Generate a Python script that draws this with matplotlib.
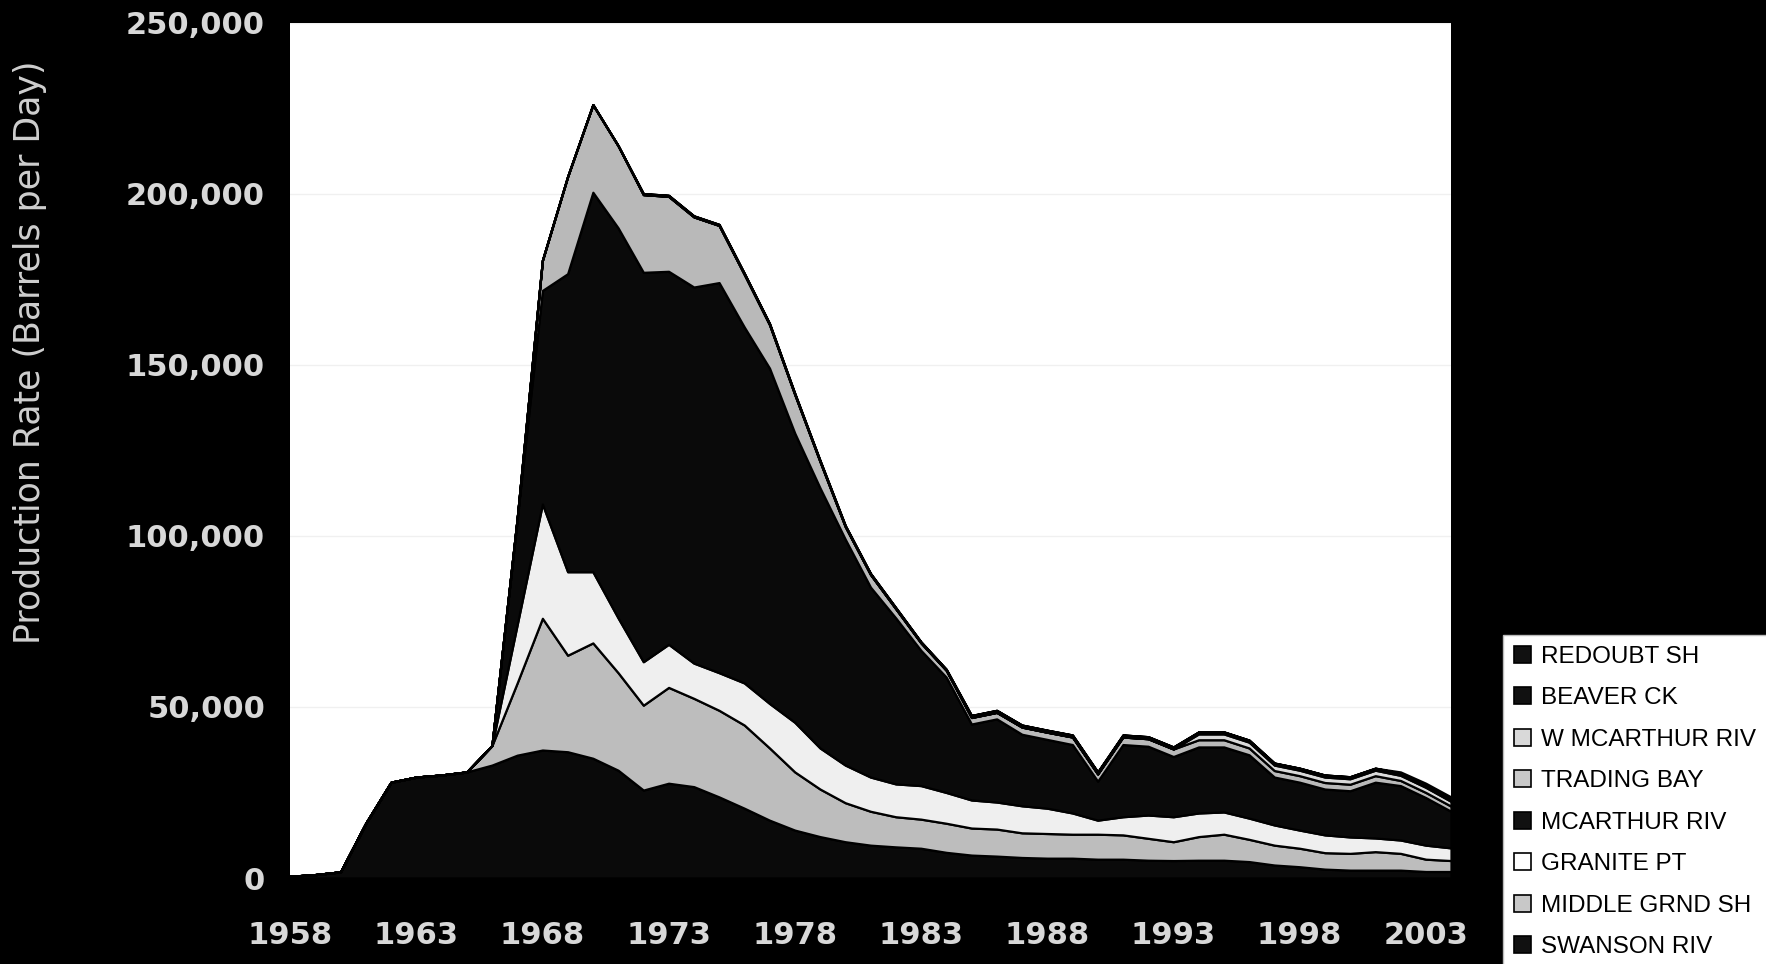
import matplotlib
matplotlib.use('Agg')
import matplotlib.pyplot as plt
from matplotlib.patches import Patch
from matplotlib.ticker import FuncFormatter

years = list(range(1958, 2005))

swanson_riv = [500, 1000, 1800, 16000, 28000, 29500, 30100, 31000, 33000, 35900,
               37400, 36900, 35000, 31500, 25700, 27700, 26700, 23700, 20400, 16900,
               14000, 12100, 10600, 9600, 9100, 8700, 7500, 6700, 6400, 6000,
               5800, 5800, 5500, 5500, 5200, 5100, 5200, 5200, 4800, 3800,
               3300, 2600, 2300, 2300, 2300, 1900, 1900]
middle_grnd_sh = [0, 0, 0, 0, 0, 0, 0, 0, 5700, 21100,
                  38500, 28200, 33700, 28500, 24800, 28000, 25800, 25300, 24300, 21100,
                  17000, 13900, 11400, 9900, 8800, 8500, 8500, 7900, 7900, 7200,
                  7200, 7000, 7300, 7100, 6400, 5500, 6900, 7600, 6500, 5800,
                  5400, 4800, 4900, 5400, 4900, 3600, 3200]
granite_pt = [0, 0, 0, 0, 0, 0, 0, 0, 0, 17000,
              33400, 24400, 20800, 16000, 12700, 12600, 10300, 11000, 12300, 13000,
              14500, 12000, 11000, 10000, 9600, 9800, 9000, 8200, 7900, 7900,
              7400, 6200, 4100, 5300, 6800, 7300, 6900, 6500, 6200, 5900,
              5300, 5200, 4800, 4000, 3900, 4100, 3700]
mcarthur_riv = [0, 0, 0, 0, 0, 0, 0, 0, 0, 31000,
                62400, 87100, 110900, 114000, 113800, 109000, 109900, 114000, 104000, 98000,
                84500, 76000, 66000, 55500, 48500, 39500, 33700, 22200, 24300, 20900,
                20100, 20000, 11400, 21100, 20100, 17600, 19300, 19000, 18500, 14000,
                14000, 13400, 13500, 16300, 15900, 13900, 10700]
trading_bay = [0, 0, 0, 0, 0, 0, 0, 0, 0, 0,
               8800, 28400, 25600, 24000, 22700, 21900, 20500, 16700, 15400, 12700,
               11300, 7700, 3700, 3700, 2700, 2200, 2000, 1900, 1900, 2100,
               2100, 2200, 2100, 2200, 2200, 2200, 2100, 2100, 2000, 1900,
               1900, 1900, 1900, 1900, 1500, 1500, 1500]
w_mcarthur_riv = [0] * 36 + [1700, 1700, 1700, 1600, 1600, 1600, 1600, 1600, 1500, 1500, 1400]
beaver_ck = [0] * 14 + [300] * 13 + [600] * 20
redoubt_sh = [0] * 44 + [400, 600, 700]

stack_layers = [swanson_riv, middle_grnd_sh, granite_pt, mcarthur_riv,
                trading_bay, w_mcarthur_riv, beaver_ck, redoubt_sh]
layer_colors = ['#0a0a0a', '#bdbdbd', '#efefef', '#0a0a0a',
                '#b9b9b9', '#dadada', '#0a0a0a', '#0a0a0a']

legend_labels = ['REDOUBT SH', 'BEAVER CK', 'W MCARTHUR RIV', 'TRADING BAY',
                 'MCARTHUR RIV', 'GRANITE PT', 'MIDDLE GRND SH', 'SWANSON RIV']
legend_colors = ['#111111', '#111111', '#d9d9d9', '#c8c8c8',
                 '#111111', '#ffffff', '#c8c8c8', '#111111']

W, H = 1766, 964
fig = plt.figure(figsize=(W / 100, H / 100), dpi=100, facecolor='black')
ax = fig.add_axes([290 / W, 1 - 878 / H, (1451 - 290) / W, (878 - 22.5) / H])
ax.set_facecolor('white')

ax.stackplot(years, stack_layers, colors=layer_colors, edgecolor='black',
             linewidth=1.6, zorder=2)

ax.set_xlim(1958, 2004)
ax.set_ylim(0, 250000)
ax.set_xticks(list(range(1958, 2004, 5)))
ax.set_yticks(list(range(0, 250001, 50000)))
ax.yaxis.set_major_formatter(FuncFormatter(lambda v, p: f'{int(v):,}'))
ax.grid(axis='y', color='#f0f0f0', linewidth=1.0, zorder=0)
ax.set_axisbelow(True)
for s in ax.spines.values():
    s.set_visible(False)
ax.tick_params(axis='both', length=0, labelsize=22, labelcolor='#d8d8d8')
ax.tick_params(axis='x', pad=31)
ax.tick_params(axis='y', pad=18)
for lab in ax.get_xticklabels() + ax.get_yticklabels():
    lab.set_fontweight('bold')
    lab.set_family('DejaVu Sans')

fig.text(30 / W, 1 - 352 / H, 'Production Rate (Barrels per Day)', rotation=90,
         ha='center', va='center', fontsize=25, color='#cfcfcf',
         family='DejaVu Sans')

handles = [Patch(facecolor=c, edgecolor='black', linewidth=1.2, label=l)
           for l, c in zip(legend_labels, legend_colors)]
leg = fig.legend(handles=handles, loc='upper left',
                 bbox_to_anchor=(1503 / W, 1 - 635 / H), frameon=True,
                 fancybox=False, prop={'family': 'Liberation Sans', 'size': 17.5},
                 labelspacing=0.8, handlelength=0.7, handleheight=0.7,
                 handletextpad=0.4, borderpad=0.45, borderaxespad=0)
leg.get_frame().set_facecolor('white')
leg.get_frame().set_edgecolor('#bbbbbb')
leg.get_frame().set_alpha(1)

fig.savefig('out.png', dpi=100, facecolor='black')
